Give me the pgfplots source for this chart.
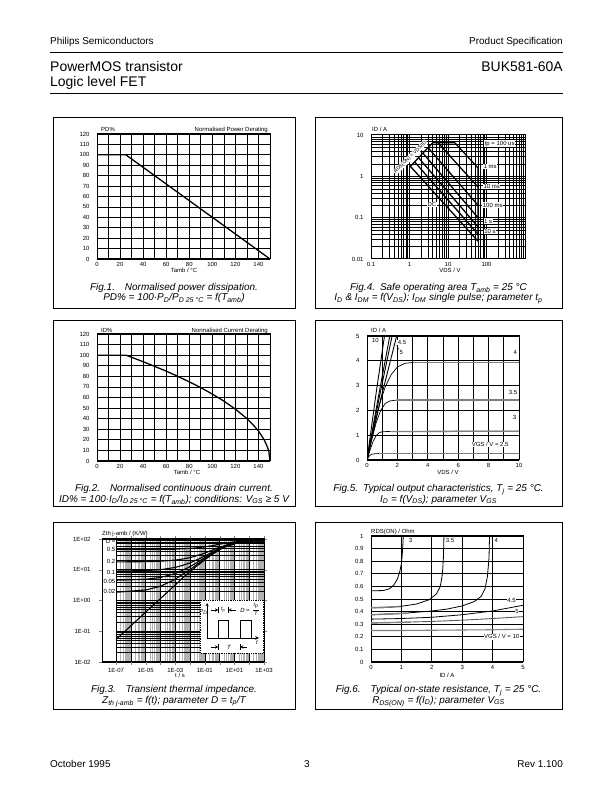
\documentclass[border=0pt]{standalone}
\usepackage{pgfplots}
\pgfplotsset{compat=1.18}
\usepackage{fontspec}
\setmainfont{Liberation Sans}
\newcommand{\tf}{\fontsize{6}{7}\selectfont}
\newcommand{\cf}{\fontsize{10}{12}\selectfont\itshape}
\newcommand{\sub}[1]{\textsubscript{#1}}
\pgfplotsset{
  ds/.style={scale only axis, anchor=south west,
    axis line style={line width=1pt},
    tick label style={font=\tf},
    /pgf/number format/assume math mode=true,
    major tick length=0pt, minor tick length=0pt,
    yticklabel style={xshift=-4pt},
    grid=both,
    major grid style={line width=0.7pt, black},
    minor grid style={line width=0.7pt, black},
  },
}
\tikzset{lbl/.style={font=\tf, fill=white, inner sep=0.6pt}}
\begin{document}
\begin{tikzpicture}[x=1bp,y=1bp]
\useasboundingbox (0,0) rectangle (612,792);
% ---------- header / footer
\node[anchor=base west, font=\fontsize{10}{12}\selectfont, inner sep=0] at (50,747.5) {Philips Semiconductors};
\node[anchor=base east, font=\fontsize{10}{12}\selectfont, inner sep=0] at (563,747.5) {Product Specification};
\draw[line width=0.8pt] (50,740) -- (563,740);
\node[anchor=base west, font=\fontsize{14}{16}\selectfont, inner sep=0] at (50,720) {PowerMOS transistor};
\node[anchor=base west, font=\fontsize{14}{16}\selectfont, inner sep=0] at (50,705) {Logic level FET};
\node[anchor=base east, font=\fontsize{14}{16}\selectfont, inner sep=0] at (563,720) {BUK581-60A};
\draw[line width=0.8pt] (50,699) -- (563,699);
\node[anchor=base west, font=\fontsize{10}{12}\selectfont, inner sep=0] at (50,24.5) {October 1995};
\node[anchor=base, font=\fontsize{10}{12}\selectfont, inner sep=0] at (307,24.5) {3};
\node[anchor=base east, font=\fontsize{10}{12}\selectfont, inner sep=0] at (563,24.5) {Rev 1.100};
% ---------- boxes
\draw[line width=0.8pt] (53,675) rectangle (295,484);
\draw[line width=0.8pt] (315,675) rectangle (562,484);
\draw[line width=0.8pt] (53,472) rectangle (295,286);
\draw[line width=0.8pt] (315,472) rectangle (562,286);
\draw[line width=0.8pt] (53,270) rectangle (295,83);
\draw[line width=0.8pt] (315,270) rectangle (562,83);

% ================= Fig.1
\begin{axis}[ds, at={(97bp,533bp)}, width=173bp, height=125bp,
  xmin=0, xmax=150, ymin=0, ymax=120,
  xtick={0,20,40,60,80,100,120,140}, minor xtick={10,30,50,70,90,110,130,150},
  ytick={0,10,20,30,40,50,60,70,80,90,100,110,120}]
\addplot[black, line width=1.3pt] coordinates {(0,100) (25,100) (150,0)};
\end{axis}
\node[anchor=base west, font=\tf, inner sep=0] at (101,660.5) {PD\%};
\node[anchor=base east, font=\tf, inner sep=0] at (268,660.5) {Normalised Power Derating};
\node[anchor=base, font=\tf, inner sep=0] at (184,519.5) {Tamb / °C};
\node[anchor=base, font=\cf, inner sep=0] at (174,501.5) {Fig.1.\quad Normalised power dissipation.};
\node[anchor=base, font=\cf, inner sep=0] at (174,491) {PD\% = 100·P\sub{D}/P\sub{D 25 °C} = f(T\sub{amb})};

% ================= Fig.2
\begin{axis}[ds, at={(97bp,331bp)}, width=173bp, height=127bp,
  xmin=0, xmax=150, ymin=0, ymax=120,
  xtick={0,20,40,60,80,100,120,140}, minor xtick={10,30,50,70,90,110,130,150},
  ytick={0,10,20,30,40,50,60,70,80,90,100,110,120}]
\addplot[black, line width=1.3pt] coordinates {(0,100) (25,100) (30,98.0) (40,93.8) (50,89.4) (60,84.9) (70,80.0) (80,74.8) (90,69.3) (100,63.2) (110,56.6) (120,49.0) (130,40.0) (135,34.6) (140,28.3) (145,20.0) (148,12.6) (149,8.9) (150,0)};
\end{axis}
\node[anchor=base west, font=\tf, inner sep=0] at (101,459.5) {ID\%};
\node[anchor=base east, font=\tf, inner sep=0] at (268,459.5) {Normalised Current Derating};
\node[anchor=base, font=\tf, inner sep=0] at (187,317) {Tamb / °C};
\node[anchor=base, font=\cf, inner sep=0] at (174,300.5) {Fig.2.\quad Normalised continuous drain current.};
\node[anchor=base, font=\cf, inner sep=0] at (174,289.5) {ID\% = 100·I\sub{D}/I\sub{D 25 °C} = f(T\sub{amb}); conditions: V\sub{GS} ≥ 5 V};

% ================= Fig.3
\begin{axis}[ds, at={(102bp,130bp)}, width=162bp, height=123bp,
  xmode=log, ymode=log, xmin=1.12e-8, xmax=1e3, ymin=1e-2, ymax=1e2,
  major tick length=3pt, tick align=outside, yticklabel style={xshift=-1pt},
  xtick={1e-7,1e-6,1e-5,1e-4,1e-3,1e-2,1e-1,1,1e1,1e2,1e3},
  xticklabels={1E-07,,1E-05,,1E-03,,1E-01,,1E+01,,1E+03},
  ytick={1e-2,1e-1,1,1e1,1e2},
  yticklabels={1E-02,1E-01,1E+00,1E+01,1E+02},
  minor xtick={2e-7,3e-7,4e-7,5e-7,6e-7,7e-7,8e-7,9e-7,2e-6,3e-6,4e-6,5e-6,6e-6,7e-6,8e-6,9e-6,2e-5,3e-5,4e-5,5e-5,6e-5,7e-5,8e-5,9e-5,2e-4,3e-4,4e-4,5e-4,6e-4,7e-4,8e-4,9e-4,2e-3,3e-3,4e-3,5e-3,6e-3,7e-3,8e-3,9e-3,2e-2,3e-2,4e-2,5e-2,6e-2,7e-2,8e-2,9e-2,0.2,0.3,0.4,0.5,0.6,0.7,0.8,0.9,2,3,4,5,6,7,8,9,20,30,40,50,60,70,80,90,200,300,400,500,600,700,800,900},
  minor ytick={0.02,0.03,0.04,0.05,0.06,0.07,0.08,0.09,0.2,0.3,0.4,0.5,0.6,0.7,0.8,0.9,2,3,4,5,6,7,8,9,20,30,40,50,60,70,80,90},
  minor x grid style={line width=0.6pt, gray!60},
  minor y grid style={line width=0.6pt, black},
  major grid style={line width=0.6pt, black}]
\fill[white] (axis cs:1.4e-8,0.0106) rectangle (axis cs:9.4e-8,94);
\addplot[black, line width=1.1pt] coordinates {(1e-7,0.054) (1e-6,0.15) (1e-5,0.42) (1e-4,1.15) (1e-3,3.2) (3e-3,5.3) (1e-2,8.5) (3e-2,13.5) (1e-1,21) (3e-1,31) (1,45) (3,58) (10,70) (30,80) (100,86) (1000,88)};
\addplot[black, line width=1.1pt] coordinates {(1e-7,1.85) (1e-5,2.2) (1e-4,2.9) (1e-3,4.9) (3e-3,7.0) (1e-2,10.1) (3e-2,15.0) (1e-1,22.4) (3e-1,32.2) (1,45.9) (3,58.6) (10,70.4) (30,80.2) (100,86.1) (1000,88.0)};
\addplot[black, line width=1.1pt] coordinates {(1e-7,4.55) (1e-5,4.9) (1e-4,5.6) (1e-3,7.5) (3e-3,9.5) (1e-2,12.6) (3e-2,17.3) (1e-1,24.5) (3e-1,34) (1,47.3) (3,59.6) (10,71) (30,80.5) (100,86.2) (1000,88.1)};
\addplot[black, line width=1.1pt] coordinates {(1e-7,9.05) (1e-5,9.4) (1e-4,10.0) (1e-3,11.9) (3e-3,13.8) (1e-2,16.7) (3e-2,21.2) (1e-1,27.9) (3e-1,36.9) (1,49.5) (3,61.2) (10,72) (30,81) (100,86.4) (1000,88.2)};
\addplot[black, line width=1.1pt] coordinates {(1e-7,18.04) (1e-5,18.3) (1e-4,18.9) (1e-3,20.6) (3e-3,22.2) (1e-2,24.8) (3e-2,28.8) (1e-1,34.8) (3e-1,42.8) (1,54) (3,64.4) (10,74) (30,82) (100,86.8) (1000,88.4)};
\addplot[black, line width=1.1pt] coordinates {(1e-7,45.03) (1e-5,45.2) (1e-4,45.6) (1e-3,46.6) (1e-2,49.3) (3e-2,51.8) (1e-1,55.5) (3e-1,60.5) (1,67.5) (3,74) (10,80) (30,85) (100,88) (1000,89)};
\node[font=\tf, anchor=east, inner sep=0.6pt] at (axis cs:1e-7,82) {D =};
\node[font=\tf, anchor=east, inner sep=0.6pt] at (axis cs:1e-7,47) {0.5};
\node[font=\tf, anchor=east, inner sep=0.6pt] at (axis cs:1e-7,18.3) {0.2};
\node[font=\tf, anchor=east, inner sep=0.6pt] at (axis cs:1e-7,8.2) {0.1};
\node[font=\tf, anchor=east, inner sep=0.6pt] at (axis cs:1e-7,4.1) {0.05};
\node[font=\tf, anchor=east, inner sep=0.6pt] at (axis cs:1e-7,1.9) {0.02};
\end{axis}
% inset
\draw[densely dotted, fill=white, line width=0.8pt] (200,192) rectangle (263.5,139);
\draw[->, >=stealth, line width=0.5pt] (207,154) -- (207,189);
\draw[->, >=stealth, line width=0.7pt] (207,154) -- (259,154);
\draw[line width=0.6pt] (207,154) -- (218.3,154) -- (218.3,172) -- (228.3,172) -- (228.3,154) -- (240,154) -- (240,172) -- (251.7,172) -- (251.7,154);
\draw[->, >=stealth, line width=0.5pt] (211,182) -- (218.3,182);
\draw[->, >=stealth, line width=0.5pt] (235.5,182) -- (228.3,182);
\draw[line width=0.5pt] (218.3,179) -- (218.3,185) (228.3,179) -- (228.3,185);
\node[font=\fontsize{5.5}{6}\selectfont\itshape, inner sep=0] at (223.3,182) {t\sub{p}};
\node[font=\fontsize{6}{6}\selectfont\itshape, inner sep=0] at (203.5,180) {P\sub{D}};
\node[font=\fontsize{6}{6}\selectfont\itshape, inner sep=0] at (245,182) {D =};
\node[font=\fontsize{5}{6}\selectfont\itshape, inner sep=0] at (256,186) {t\sub{p}};
\draw[line width=0.4pt] (253,182) -- (259,182);
\node[font=\fontsize{5}{6}\selectfont\itshape, inner sep=0] at (256,178) {T};
\draw[->, >=stealth, line width=0.5pt] (211,145) -- (218.3,145);
\draw[->, >=stealth, line width=0.5pt] (247,145) -- (240,145);
\draw[line width=0.5pt] (218.3,142) -- (218.3,148) (240,142) -- (240,148);
\node[font=\fontsize{6}{6}\selectfont\itshape, inner sep=0] at (229,145) {T};
\node[font=\fontsize{6}{6}\selectfont\itshape, inner sep=0] at (257,149) {t};
\node[anchor=base west, font=\tf, inner sep=0] at (102,256) {Zth j-amb / (K/W)};
\node[anchor=base, font=\tf, inner sep=0] at (180,114.5) {t / s};
\node[anchor=base, font=\cf, inner sep=0] at (174,99.5) {Fig.3.\quad Transient thermal impedance.};
\node[anchor=base, font=\cf, inner sep=0] at (174,88.5) {Z\sub{th j-amb} = f(t); parameter D = t\sub{p}/T};

% ================= Fig.4
\begin{axis}[ds, at={(371bp,533bp)}, width=154bp, height=124bp,
  xmode=log, ymode=log, xmin=0.1, xmax=1000, ymin=0.01, ymax=10,
  xtick={0.1,1,10,100}, xticklabels={0.1,1,10,100},
  ytick={0.01,0.1,1,10}, yticklabels={0.01,0.1,1,10},
  minor xtick={0.2,0.3,0.4,0.5,0.6,0.7,0.8,0.9,2,3,4,5,6,7,8,9,20,30,40,50,60,70,80,90,200,300,400,500,600,700,800,900},
  minor ytick={0.02,0.03,0.04,0.05,0.06,0.07,0.08,0.09,0.2,0.3,0.4,0.5,0.6,0.7,0.8,0.9,2,3,4,5,6,7,8,9},
  major grid style={line width=1pt, black},
  minor grid style={line width=0.5pt, black}]
\addplot[black, line width=1.3pt] coordinates {(1.0,1.65) (4.0,6.5) (15,6.5) (60,1.6) (60,0.027)};
\addplot[black, line width=1.3pt] coordinates {(5.5,6.5) (60,0.55)};
\addplot[black, line width=1.3pt] coordinates {(3.0,5.0) (60,0.2)};
\addplot[black, line width=1.3pt] coordinates {(2.2,3.7) (60,0.1)};
\addplot[black, line width=1.3pt] coordinates {(1.7,2.85) (60,0.06)};
\addplot[black, line width=1.3pt] coordinates {(1.35,2.25) (60,0.04)};
\addplot[black, line width=1.3pt] coordinates {(1.05,1.75) (60,0.027)};
\node[lbl, font=\fontsize{5}{5}\selectfont, rotate=45] at (axis cs:1.05,2.9) {RDS(ON) = VDS/ID};
\node[lbl] at (axis cs:220,6.2) {tp = 100 us};
\node[lbl] at (axis cs:125,1.71) {1 ms};
\node[lbl] at (axis cs:136,0.56) {10 ms};
\node[lbl] at (axis cs:145,0.2) {100 ms};
\node[lbl] at (axis cs:110,0.083) {1 s};
\node[lbl] at (axis cs:123,0.046) {10 s};
\node[lbl] at (axis cs:3.8,0.21) {DC};
\end{axis}
\node[anchor=base west, font=\tf, inner sep=0] at (372,660.5) {ID / A};
\node[anchor=base, font=\tf, inner sep=0] at (450,519.5) {VDS / V};
\node[anchor=base, font=\cf, inner sep=0] at (438.5,501.5) {Fig.4.\enspace Safe operating area T\sub{amb} = 25 °C};
\node[anchor=base, font=\cf, inner sep=0] at (438.5,491) {I\sub{D} \& I\sub{DM} = f(V\sub{DS}); I\sub{DM} single pulse; parameter t\sub{p}};

% ================= Fig.5
\begin{axis}[ds, at={(367bp,332bp)}, width=152bp, height=124bp,
  xmin=0, xmax=10, ymin=0, ymax=5,
  xtick={0,2,4,6,8,10}, minor xtick={1,3,5,7,9}, ytick={0,1,2,3,4,5}]
\addplot[black, line width=0.7pt] coordinates {(0,0) (0.1,0.12) (0.2,0.19) (0.3,0.23) (0.5,0.25) (0.8,0.26) (10,0.26)};
\addplot[gray, line width=1.3pt] coordinates {(0.8,0.26) (10,0.26)};
\addplot[black, line width=0.7pt] coordinates {(0,0) (0.2,0.4) (0.4,0.75) (0.6,0.98) (0.8,1.1) (1,1.14) (1.5,1.15) (10,1.16)};
\addplot[gray, line width=1.3pt] coordinates {(1.5,1.15) (10,1.16)};
\addplot[black, line width=0.7pt] coordinates {(0,0) (0.3,0.8) (0.6,1.5) (0.9,2.0) (1.2,2.28) (1.5,2.38) (2,2.42) (10,2.42)};
\addplot[gray, line width=1.3pt] coordinates {(2,2.42) (10,2.42)};
\addplot[black, line width=0.7pt] coordinates {(0,0) (0.4,1.2) (0.8,2.2) (1.2,2.95) (1.6,3.45) (2,3.75) (2.5,3.9) (3,3.93) (10,3.93)};
\addplot[gray, line width=1.3pt] coordinates {(3,3.93) (10,3.93)};
\addplot[black, line width=0.9pt] coordinates {(0,0) (0.6,2.7) (1.15,5)};
\addplot[black, line width=0.9pt] coordinates {(0,0) (0.75,2.55) (1.5,5)};
\addplot[black, line width=0.9pt] coordinates {(0,0) (0.8,2.5) (1.65,5)};
\addplot[black, line width=0.9pt] coordinates {(0,0) (0.9,2.45) (1.95,5)};
\node[lbl] at (axis cs:0.55,4.82) {10};
\node[lbl] at (axis cs:2.3,4.75) {4.5};
\node[lbl] at (axis cs:2.25,4.35) {5};
\draw[line width=0.4pt] (axis cs:1.95,4.62) -- (axis cs:2.1,4.45);
\node[lbl] at (axis cs:9.75,4.35) {4};
\node[lbl] at (axis cs:9.6,2.72) {3.5};
\node[lbl] at (axis cs:9.7,1.72) {3};
\node[lbl] at (axis cs:8.1,0.62) {VGS / V = 2.5};
\end{axis}
\node[anchor=base west, font=\tf, inner sep=0] at (371,459) {ID / A};
\node[anchor=base, font=\tf, inner sep=0] at (448,317) {VDS / V};
\node[anchor=base, font=\cf, inner sep=0] at (438.5,300.5) {Fig.5.\enspace Typical output characteristics, T\sub{j} = 25 °C.};
\node[anchor=base, font=\cf, inner sep=0] at (438.5,289.5) {I\sub{D} = f(V\sub{DS}); parameter V\sub{GS}};

% ================= Fig.6
\begin{axis}[ds, at={(371bp,130bp)}, width=152bp, height=126bp,
  xmin=0, xmax=5, ymin=0, ymax=1,
  xtick={0,1,2,3,4,5}, ytick={0,0.1,0.2,0.3,0.4,0.5,0.6,0.7,0.8,0.9,1}, minor tick num=0]
\addplot[black, line width=0.8pt] coordinates {(0,0.565) (0.4,0.567) (0.6,0.58) (0.75,0.61) (0.87,0.66) (0.95,0.72) (1.0,0.78) (1.03,0.86) (1.05,0.94) (1.06,1.0)};
\addplot[black, line width=0.8pt] coordinates {(0,0.43) (0.5,0.432) (0.93,0.44) (1.5,0.46) (1.92,0.495) (2.15,0.54) (2.28,0.6) (2.35,0.7) (2.38,0.82) (2.4,1.0)};
\addplot[gray, line width=1.4pt] coordinates {(0,0.43) (0.93,0.44)};
\addplot[black, line width=0.8pt] coordinates {(0,0.375) (1,0.385) (2,0.405) (2.5,0.42) (3,0.445) (3.4,0.48) (3.62,0.52) (3.75,0.58) (3.83,0.68) (3.88,0.82) (3.9,1.0)};
\addplot[gray, line width=1.4pt] coordinates {(0,0.375) (1.2,0.387)};
\addplot[black, line width=0.8pt] coordinates {(0,0.34) (1,0.345) (2,0.355) (3,0.375) (4,0.405) (5,0.45)};
\addplot[gray!70!black, line width=0.9pt] coordinates {(0,0.31) (1,0.315) (2,0.322) (3,0.332) (4,0.345) (5,0.36)};
\addplot[gray, line width=1.4pt] coordinates {(0,0.31) (1.3,0.316)};
\addplot[gray, line width=1.1pt] coordinates {(0,0.25) (1,0.25) (2,0.252) (3,0.254) (4,0.256) (5,0.26)};
\node[lbl] at (axis cs:1.3,0.965) {3};
\node[lbl] at (axis cs:2.6,0.965) {3.5};
\node[lbl] at (axis cs:4.12,0.965) {4};
\node[lbl] at (axis cs:4.62,0.49) {4.5};
\node[lbl] at (axis cs:4.8,0.40) {5};
\node[lbl] at (axis cs:4.3,0.2) {VGS / V = 10};
\end{axis}
\node[anchor=base west, font=\tf, inner sep=0] at (371,258) {RDS(ON) / Ohm};
\node[anchor=base, font=\tf, inner sep=0] at (447,114.5) {ID / A};
\node[anchor=base, font=\cf, inner sep=0] at (438.5,99.5) {Fig.6.\quad Typical on-state resistance, T\sub{j} = 25 °C.};
\node[anchor=base, font=\cf, inner sep=0] at (438.5,88.5) {R\sub{DS(ON)} = f(I\sub{D}); parameter V\sub{GS}};
\end{tikzpicture}
\end{document}
